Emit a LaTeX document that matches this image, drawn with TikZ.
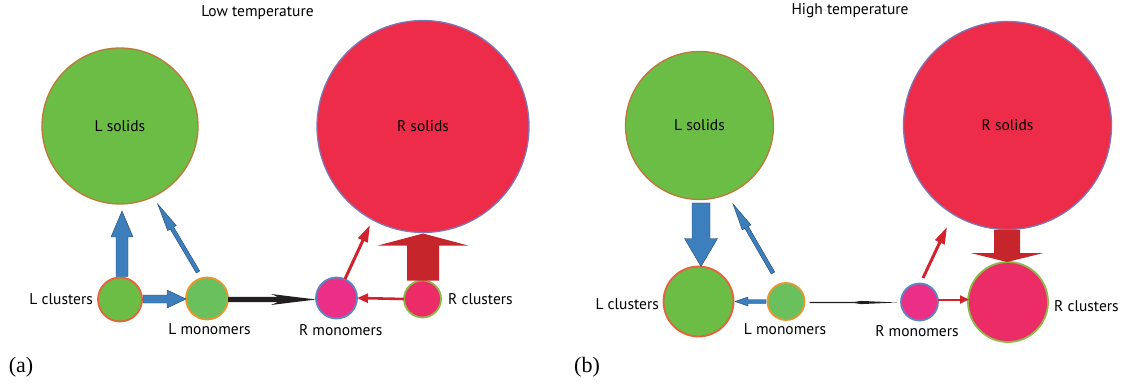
\documentclass[tikz,border=0pt]{standalone}
\usepackage{fontspec}
\setmainfont{PT Sans}
\newfontfamily\lblserif{Liberation Serif}
\usetikzlibrary{calc,arrows.meta}
\definecolor{gfill}{HTML}{6BBD45}
\definecolor{gfillb}{HTML}{6BC05E}
\definecolor{brownline}{HTML}{C0773A}
\definecolor{orline}{HTML}{EA5F3C}
\definecolor{oline}{HTML}{E8962F}
\definecolor{rsfill}{HTML}{EC2C48}
\definecolor{rsline}{HTML}{7D78B8}
\definecolor{rmfill}{HTML}{EC2F86}
\definecolor{rmline}{HTML}{5A88C4}
\definecolor{rcfill}{HTML}{EC2C66}
\definecolor{rcline}{HTML}{8CBA48}
\definecolor{bluearr}{HTML}{3C7FBC}
\definecolor{bluedark}{HTML}{22466B}
\definecolor{redarr}{HTML}{D1232E}
\definecolor{bigred}{HTML}{C6252C}
\definecolor{blackarr}{HTML}{231F20}
\newcommand\blockarr[6]{%
  \coordinate (bahd) at ($(#3)!#6!(#2)$);
  \filldraw[#1] ($(#2)!#4!90:(#3)$) -- ($(bahd)!#4!-90:(#2)$) -- ($(bahd)!#5!-90:(#2)$) -- (#3) -- ($(bahd)!#5!90:(#2)$) -- ($(bahd)!#4!90:(#2)$) -- ($(#2)!#4!-90:(#3)$) -- cycle;
}
\tikzset{
  ball/.style={circle,inner sep=0pt,outer sep=0pt,font=\fontsize{15.5}{18}\selectfont},
  lsolid/.style={ball,fill=gfill,draw=brownline,line width=1.3pt},
  rsolid/.style={ball,fill=rsfill,draw=rsline,line width=1.3pt},
  lclus/.style={ball,fill=gfill,draw=orline,line width=1.8pt},
  lmono/.style={ball,fill=gfillb,draw=oline,line width=1.8pt},
  rmono/.style={ball,fill=rmfill,draw=rmline,line width=1.8pt},
  rclus/.style={ball,fill=rcfill,draw=rcline,line width=1.8pt},
  lbl/.style={inner sep=0pt,font=\fontsize{15.5}{18}\selectfont},
  ttl/.style={inner sep=0pt,font=\fontsize{15.5}{18}\selectfont},
  panel/.style={inner sep=0pt,font=\lblserif\fontsize{22}{24}\selectfont},
  bluea/.style={fill=bluearr,draw=bluedark,line width=0.4pt,line join=miter},
  reda/.style={fill=bigred,draw=none},
  redline/.style={draw=redarr,line width=2.6pt,-{Triangle[length=11pt,width=9pt]}},
  redlineb/.style={draw=redarr,line width=3pt,-{Triangle[length=17pt,width=10pt]}},
  redlinec/.style={draw=redarr,line width=2pt,-{Triangle[length=9pt,width=8pt]}},
  blackfill/.style={fill=blackarr,draw=none},
}
\begin{document}
\begin{tikzpicture}[x=1pt,y=-1pt]
\useasboundingbox (0,0) rectangle (1123,387);
% ---------------- panel (a)
\node[ttl] (ta) at (257.5,12.5) {Low temperature};
\node[lsolid,minimum size=156pt] (Lsa) at (120,126) {L solids};
\node[rsolid,minimum size=212pt] (Rsa) at (423,126.5) {R solids};
\node[lclus,minimum size=44pt] (Lca) at (120,299.5) {};
\node[lmono,minimum size=42pt] (Lma) at (207,298.5) {};
\node[rmono,minimum size=41pt] (Rma) at (336.5,298) {};
\node[rclus,minimum size=37pt] (Rca) at (422.5,299) {};
\node[lbl,anchor=east] (lLca) at (93,299) {L clusters};
\node[lbl] (lLma) at (209.5,329) {L monomers};
\node[lbl] (lRma) at (340.7,330) {R monomers};
\node[lbl,anchor=west] (lRca) at (448,299) {R clusters};
\node[panel] (pa) at (21,367) {(a)};
% arrows (a)
\coordinate (a1s) at ($(Lca)+(2,-23)$);
\coordinate (a1t) at ($(Lsa)+(2,85)$);
\blockarr{bluea}{a1s}{a1t}{6pt}{11pt}{26pt}
\coordinate (a2s) at ($(Lma)+(-9,-26.5)$);
\coordinate (a2t) at ($(Lsa)+(37.7,78)$);
\blockarr{bluea}{a2s}{a2t}{2pt}{5pt}{28pt}
\coordinate (a3s) at ($(Lca.east)+(1,-0.5)$);
\coordinate (a3t) at ($(Lma.west)+(0,0.5)$);
\blockarr{bluea}{a3s}{a3t}{4pt}{9pt}{19pt}
\coordinate (a4s) at ($(Lma.east)+(0,1)$);
\coordinate (a4t) at ($(Rma.west)+(0,1.5)$);
\fill[blackfill] ($(a4s)+(0,-2.6)$) -- ($(a4t)+(-38,-2.6)$) -- ($(a4t)+(-45,-5.5)$) -- (a4t)
  -- ($(a4t)+(-45,5.5)$) -- ($(a4t)+(-38,2.6)$) -- ($(a4s)+(0,2.6)$) -- cycle;
\draw[redline] (Rca.west) -- (Rma.east);
\coordinate (a6s) at ($(Rma)+(8.5,-19)$);
\coordinate (a6t) at ($(Rsa)+(-53,98.5)$);
\draw[redlineb] (a6s) -- (a6t);
\coordinate (a7s) at ($(Rca.north)+(0.5,0)$);
\coordinate (a7t) at ($(Rsa.south)+(0,1)$);
\blockarr{reda}{a7s}{a7t}{16pt}{45pt}{12pt}
% ---------------- panel (b)
\node[ttl] (tb) at (850,10.5) {High temperature};
\node[lsolid,minimum size=148pt] (Lsb) at (699.5,125.5) {L solids};
\node[rsolid,minimum size=208pt] (Rsb) at (1007.5,125.5) {R solids};
\node[lclus,minimum size=70pt] (Lcb) at (698.5,301.5) {};
\node[lmono,minimum size=37pt] (Lmb) at (786,301.5) {};
\node[rmono,minimum size=37pt] (Rmb) at (919.5,302) {};
\node[rclus,minimum size=80pt] (Rcb) at (1008,302) {};
\node[lbl,anchor=east] (lLcb) at (659,304) {L clusters};
\node[lbl] (lLmb) at (785,329) {L monomers};
\node[lbl] (lRmb) at (917,330.7) {R monomers};
\node[lbl,anchor=west] (lRcb) at (1054,306) {R clusters};
\node[panel] (pb) at (587,367) {(b)};
% arrows (b)
\coordinate (b1s) at ($(Lsb.south)+(1.5,3.5)$);
\coordinate (b1t) at ($(Lcb.north)+(2.5,0)$);
\blockarr{bluea}{b1s}{b1t}{9pt}{16.5pt}{28pt}
\coordinate (b2s) at ($(Lmb)+(-13,-28.5)$);
\coordinate (b2t) at ($(Lsb)+(33.5,78.5)$);
\blockarr{bluea}{b2s}{b2t}{2pt}{5pt}{27pt}
\coordinate (b3s) at ($(Lmb.west)+(-1.5,0)$);
\coordinate (b3t) at ($(Lcb.east)+(1.5,0)$);
\blockarr{bluea}{b3s}{b3t}{2pt}{4.5pt}{13pt}
\coordinate (b4s) at ($(Lmb.east)+(5,1)$);
\coordinate (b4t) at ($(Rmb.west)+(-4,0.5)$);
\fill[blackfill] ($(b4s)+(0,-0.7)$) -- ($(b4t)+(-42,-0.7)$) -- ($(b4t)+(-36,-1.6)$) -- (b4t)
  -- ($(b4t)+(-36,1.6)$) -- ($(b4t)+(-42,0.7)$) -- ($(b4s)+(0,0.7)$) -- cycle;
\coordinate (b5s) at ($(Rmb.east)+(0,-2.5)$);
\coordinate (b5t) at ($(Rcb.west)+(1,-2.5)$);
\draw[redlinec] (b5s) -- (b5t);
\coordinate (b6s) at ($(Rmb)+(3.5,-24)$);
\coordinate (b6t) at ($(Rsb)+(-60.5,101.5)$);
\draw[redlineb] (b6s) -- (b6t);
\coordinate (b7s) at ($(Rsb.south)+(-0.5,0.5)$);
\coordinate (b7t) at ($(Rcb.north)+(-1,0)$);
\blockarr{reda}{b7s}{b7t}{13pt}{36.5pt}{9pt}
\end{tikzpicture}
\end{document}
